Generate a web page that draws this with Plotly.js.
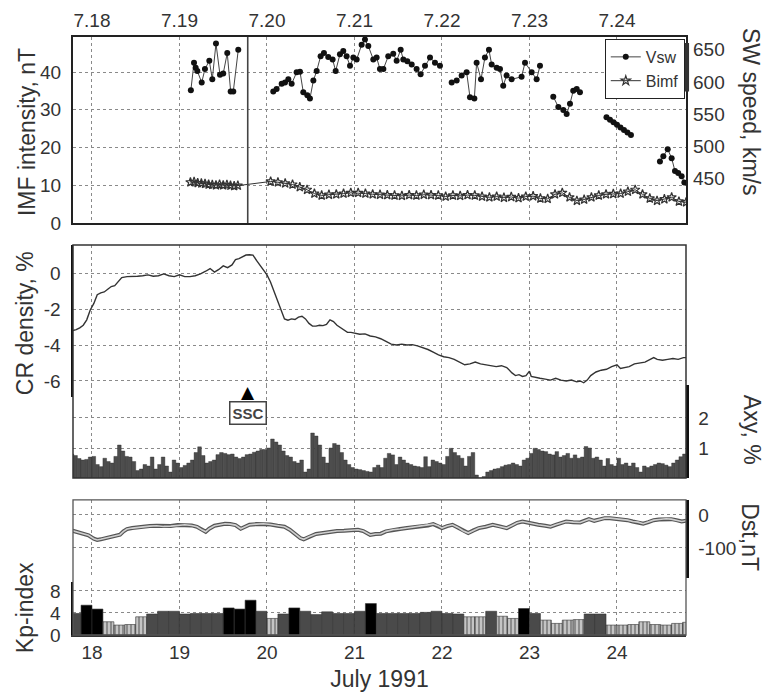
<!DOCTYPE html>
<html><head><meta charset="utf-8">
<script src="https://cdn.plot.ly/plotly-3.0.1.min.js"></script>
<style>html,body{margin:0;padding:0;background:#fff}#chart{width:764px;height:692px}</style>
</head><body><div id="chart"></div>
<script>
// ---------- data (time = day of July 1991) ----------
const dayTicks = [18, 19, 20, 21, 22, 23, 24];
const topTickText = ['7.18', '7.19', '7.20', '7.21', '7.22', '7.23', '7.24'];
const bottomTickText = ['18', '19', '20', '21', '22', '23', '24'];
const sscTime = 19.78;

// Solar wind speed, km/s (null = data gap)
const vswT = [19.13,19.166,19.185,19.204,19.254,19.291,19.341,19.375,19.417,19.463,19.5,19.546,19.585,19.615,19.672,
  19.8,
  20.072,20.11,20.168,20.206,20.244,20.282,20.339,20.377,20.415,20.461,20.491,20.53,20.568,20.613,20.651,20.70,20.75,20.785,20.834,20.872,20.91,20.949,20.987,21.025,21.082,21.12,21.158,21.215,21.253,21.291,21.33,21.386,21.443,21.482,21.528,21.558,21.604,21.654,21.71,21.756,21.806,21.863,21.92,21.977,
  22.05,
  22.111,22.168,22.225,22.282,22.32,22.37,22.396,22.446,22.491,22.537,22.568,22.625,22.663,22.70,22.739,22.796,22.91,22.949,23.025,23.082,23.12,
  23.2,
  23.272,23.33,23.387,23.425,23.463,23.50,23.54,23.577,
  23.7,
  23.88,23.92,23.96,24.0,24.04,24.08,24.12,24.16,
  24.3,
  24.491,24.53,24.58,24.625,24.663,24.70,24.739,24.77];
const vswV = [587,630,622,617,599,620,633,604,660,611,613,645,585,585,650,
  null,
  585,589,597,599,604,597,615,616,584,579,574,602,617,640,645,639,635,617,643,648,640,625,638,635,658,666,656,635,638,620,620,640,644,633,650,635,632,627,620,612,625,638,630,625,
  null,
  599,602,610,615,576,574,630,604,638,650,627,622,620,594,610,604,608,630,615,604,625,
  null,
  577,561,556,550,566,586,589,584,
  null,
  545,541,537,533,529,525,521,517,
  null,
  476,484,495,481,461,458,453,443];

// IMF intensity, nT
const bimfT = [19.125,19.167,19.208,19.25,19.292,19.333,19.375,19.417,19.458,19.5,19.542,19.583,19.625,19.667,
  20.042,20.125,20.208,20.292,20.375,20.458,20.542,20.625,20.708,20.792,20.875,20.958,21.042,21.125,21.208,21.292,21.375,21.458,21.542,21.625,
  21.708,21.792,21.875,21.958,22.042,22.125,22.208,22.292,22.375,22.458,22.542,22.625,22.708,22.792,22.875,22.958,23.042,23.125,23.208,23.292,
  23.375,23.458,23.542,23.625,23.708,23.792,23.875,23.958,24.042,24.125,24.208,24.292,24.375,24.458,24.542,24.625,24.708,24.79];
const bimfV = [10.8,10.9,10.6,10.5,10.4,10.2,10.1,10.0,10.2,10.0,10.1,9.9,9.8,9.9,
  11.0,10.8,10.5,10.2,9.5,8.8,7.8,7.3,7.5,7.6,7.8,8.0,8.0,7.8,7.6,7.5,7.4,7.3,7.2,7.4,
  7.3,7.5,7.4,7.3,7.0,7.3,7.2,7.4,7.3,7.0,6.8,7.0,6.7,6.9,6.6,7.0,7.1,6.5,6.4,7.6,
  8.0,6.8,5.9,6.2,6.8,7.3,7.6,7.7,7.8,8.3,8.8,7.6,6.5,5.9,6.3,6.8,5.7,5.5];

// Cosmic ray density, %
const crT = [17.78,17.82,17.86,17.9,17.94,17.98,18.02,18.06,18.1,18.14,18.18,18.22,18.26,18.3,18.34,18.4,18.46,18.52,18.58,18.64,18.7,18.76,18.82,18.88,18.94,
  19.0,19.06,19.12,19.18,19.24,19.3,19.35,19.4,19.45,19.5,19.55,19.6,19.64,19.68,19.72,19.76,19.8,19.84,19.88,19.92,19.96,
  20.0,20.04,20.08,20.12,20.16,20.2,20.24,20.28,20.32,20.36,20.4,20.44,20.48,20.52,20.56,20.6,20.64,20.68,20.72,20.76,20.8,20.84,20.88,20.92,20.96,
  21.0,21.06,21.12,21.18,21.24,21.3,21.36,21.42,21.48,21.54,21.6,21.66,21.72,21.78,21.84,21.9,21.96,
  22.02,22.08,22.14,22.2,22.26,22.32,22.38,22.44,22.5,22.56,22.62,22.68,22.74,22.8,22.84,22.88,22.92,22.96,
  23.0,23.02,23.06,23.12,23.18,23.24,23.3,23.36,23.42,23.48,23.54,23.58,23.62,23.66,23.7,23.76,23.82,23.88,23.94,
  24.0,24.04,24.08,24.14,24.2,24.26,24.32,24.38,24.42,24.46,24.52,24.58,24.64,24.7,24.76,24.79];
const crV = [-3.2,-3.15,-3.05,-2.9,-2.6,-2.05,-1.7,-1.2,-1.1,-1.05,-0.9,-0.75,-0.7,-0.45,-0.25,-0.2,-0.2,-0.18,-0.15,-0.1,-0.18,-0.15,-0.05,-0.15,-0.2,
  -0.1,-0.2,-0.2,-0.15,-0.05,0.1,0.25,0.05,0.2,0.4,0.3,0.45,0.75,0.8,0.9,1.0,1.02,1.0,0.7,0.45,0.15,
  -0.1,-0.5,-1.0,-1.5,-2.0,-2.55,-2.62,-2.55,-2.58,-2.45,-2.4,-2.55,-2.8,-2.95,-2.95,-2.9,-2.92,-2.85,-2.6,-2.7,-2.9,-3.05,-3.2,-3.3,-3.3,
  -3.35,-3.4,-3.38,-3.5,-3.55,-3.65,-3.8,-3.95,-4.0,-3.95,-4.0,-3.98,-4.05,-4.15,-4.25,-4.4,-4.55,
  -4.65,-4.7,-4.8,-4.95,-5.1,-5.05,-4.95,-5.05,-5.1,-5.15,-5.2,-5.15,-5.25,-5.55,-5.7,-5.65,-5.75,-5.7,
  -5.45,-5.75,-5.8,-5.85,-5.9,-5.95,-5.85,-5.95,-6.0,-5.95,-6.05,-6.0,-6.1,-5.95,-5.7,-5.5,-5.4,-5.35,-5.2,
  -5.1,-5.3,-5.25,-5.2,-5.05,-5.0,-4.95,-4.8,-4.7,-4.8,-4.85,-4.8,-4.75,-4.8,-4.7,-4.7];

// CR anisotropy Axy, % (hourly, first hour starts 17.75)
const axyStart = 17.75;
const axyStep = 1 / 24;
const axyV = [0.8,0.75,0.65,0.6,0.62,0.7, 0.72,0.45,0.38,0.66,0.55,0.5, 0.72,1.1,0.9,0.72,0.7,0.55, 0.25,0.3,0.45,0.4,0.7,0.3,
  0.45,0.7,0.4,0.2,0.6,0.5, 0.35,0.42,0.5,0.6,0.85,1.04, 0.75,0.5,0.55,0.6,0.78,0.85, 0.82,0.78,0.8,0.7,0.65,0.7,
  0.78,0.8,0.86,0.9,0.95,0.95, 1.0,1.3,1.2,1.1,0.9,0.75, 0.7,0.55,0.5,0.6,0.2,0.3, 1.5,1.4,1.1,0.7,0.5,1.0,
  1.15,1.1,0.85,0.6,0.45,0.35, 0.3,0.28,0.25,0.22,0.2,0.35, 0.43,0.35,0.66,0.82,0.77,0.45, 0.7,0.6,0.5,0.45,0.4,0.38,
  0.35,0.71,0.38,0.6,0.55,0.5, 0.45,0.72,0.99,0.85,0.75,0.66, 0.4,0.72,0.85,0.1,0.0,0.05, 0.2,0.25,0.3,0.32,0.38,0.43,
  0.45,0.5,0.45,0.4,0.6,0.66, 0.82,0.99,0.95,0.9,0.88,0.8, 0.77,0.88,0.7,0.75,0.82,0.66, 0.77,0.66,0.7,1.05,1.0,0.66,
  0.7,0.6,0.4,0.65,0.45,0.4, 0.66,0.45,0.5,0.4,0.5,0.35, 0.2,0.4,0.35,0.4,0.45,0.5, 0.48,0.43,0.38,0.5,0.6,0.71, 0.8];

// Dst, nT
const dstT = [17.78,17.84,17.9,17.96,18.02,18.06,18.1,18.16,18.22,18.28,18.32,18.36,18.4,18.46,18.52,18.58,18.66,18.74,18.82,18.9,18.98,
  19.06,19.14,19.2,19.26,19.3,19.34,19.4,19.46,19.52,19.58,19.64,19.7,19.74,19.8,19.88,19.96,
  20.04,20.12,20.2,20.26,20.32,20.38,20.42,20.48,20.56,20.64,20.72,20.8,20.88,20.96,
  21.04,21.1,21.18,21.24,21.3,21.36,21.44,21.52,21.6,21.68,21.76,21.84,21.9,21.96,
  22.0,22.06,22.12,22.18,22.24,22.3,22.36,22.42,22.5,22.58,22.66,22.74,22.8,22.86,22.92,22.98,
  23.04,23.1,23.18,23.24,23.3,23.36,23.42,23.5,23.58,23.64,23.68,23.74,23.8,23.86,23.92,
  24.0,24.06,24.12,24.18,24.24,24.3,24.36,24.42,24.48,24.56,24.62,24.68,24.74,24.79];
const dstV = [-48,-52,-58,-62,-72,-76,-74,-70,-66,-62,-60,-50,-43,-40,-38,-35,-34,-33,-35,-34,-31,
  -30,-32,-36,-46,-51,-42,-33,-30,-27,-28,-31,-42,-38,-30,-28,-27,
  -29,-33,-36,-45,-58,-70,-74,-66,-58,-55,-51,-49,-48,-46,
  -45,-49,-61,-58,-57,-50,-45,-43,-40,-38,-35,-32,-28,-34,
  -40,-34,-30,-38,-48,-55,-47,-40,-36,-30,-35,-40,-32,-24,-20,-24,
  -28,-30,-33,-36,-30,-26,-20,-22,-23,-17,-13,-18,-14,-10,-10,
  -12,-13,-16,-20,-22,-27,-22,-16,-14,-12,-13,-16,-20,-18];

// Kp index (3-hour intervals, first interval starts 17.75)
const kpStart = 17.75;
const kpStep = 0.125;
const kpV = [3.9,5.4,4.7,2.4,1.8,1.9,3.3,3.8,4.3,4.3, 3.8,3.9,3.9,3.9,4.9,4.7,6.3,4.3,3.0,3.8,
  4.9,4.3,3.7,4.2,3.9,3.9,4.3,5.7,3.9,3.9, 3.9,3.9,4.1,4.3,3.9,3.8,3.3,3.3,4.3,3.4,
  3.0,4.8,3.9,2.7,2.1,2.7,2.8,3.8,3.8,1.8, 1.8,1.9,2.4,1.9,1.8,2.1,2.3];

// ---------- derived ----------
const axyT = axyV.map((v, i) => axyStart + (i + 0.5) * axyStep);
const kpT = kpV.map((v, i) => kpStart + (i + 0.5) * kpStep);
const kpColor = kpV.map(v => v >= 4.7 ? '#000000' : (v >= 3.5 ? '#4a4a4a' : '#c4c4c4'));
const kpPattern = kpV.map(v => v < 3.5 ? '|' : '');

const xRange = [17.783, 24.789];
const FONT = 'Liberation Sans, Arial, sans-serif';
const TXT = '#333';
const GRID = '#8a8a8a';

const traces = [
  {x: vswT, y: vswV, xaxis: 'x', yaxis: 'y2', name: 'Vsw', mode: 'lines+markers', connectgaps: false,
   line: {color: '#444', width: 1}, marker: {symbol: 'circle', size: 6, color: '#111'}},
  {x: bimfT, y: bimfV, xaxis: 'x', yaxis: 'y', name: 'Bimf', mode: 'lines+markers',
   line: {color: '#333', width: 1}, marker: {symbol: 'star-open', size: 7, color: '#333', line: {width: 1.2}}},
  {x: crT, y: crV, xaxis: 'x2', yaxis: 'y3', mode: 'lines', showlegend: false,
   line: {color: '#333', width: 1.4}},
  {x: axyT, y: axyV, xaxis: 'x2', yaxis: 'y4', type: 'bar', width: axyStep, showlegend: false,
   marker: {color: '#4d4d4d', line: {color: '#2a2a2a', width: 0.4}}},
  {x: dstT, y: dstV, xaxis: 'x3', yaxis: 'y5', mode: 'lines', showlegend: false,
   line: {color: '#555', width: 4}},
  {x: dstT, y: dstV, xaxis: 'x3', yaxis: 'y5', mode: 'lines', showlegend: false,
   line: {color: '#cfcfcf', width: 1.6}},
  {x: kpT, y: kpV, xaxis: 'x3', yaxis: 'y6', type: 'bar', width: kpStep, showlegend: false,
   marker: {color: kpColor, line: {color: '#333', width: 0.6},
            pattern: {shape: kpPattern, fgcolor: '#f4f4f4', size: 4, solidity: 0.45, fillmode: 'overlay'}}}
];

const tickFont = {family: FONT, size: 19, color: TXT};
const gridX = {showgrid: true, gridcolor: GRID, griddash: 'dot', gridwidth: 1, zeroline: false};
function yax(extra) {
  return Object.assign({showgrid: true, gridcolor: GRID, griddash: 'dot', gridwidth: 1, zeroline: false,
    tickfont: tickFont, ticks: '', ticklabelstandoff: 6, fixedrange: true}, extra);
}

const layout = {
  width: 764, height: 692,
  margin: {l: 73, r: 78, t: 37, b: 57},
  paper_bgcolor: '#fff', plot_bgcolor: '#fff',
  font: {family: FONT, color: TXT},
  showlegend: true,
  legend: {x: 0.998, xanchor: 'right', y: 0.9967, yanchor: 'top', bgcolor: '#fff',
    bordercolor: '#222', borderwidth: 1, font: {family: FONT, size: 16, color: TXT}, itemwidth: 30, tracegroupgap: 0},
  xaxis: Object.assign({domain: [0, 1], range: xRange, anchor: 'y', side: 'top', tickmode: 'array',
    tickvals: dayTicks, ticktext: topTickText, tickfont: tickFont, ticks: '', ticklabelstandoff: 0,
    showline: true, mirror: true, linewidth: 2, linecolor: '#222'}, gridX),
  yaxis: yax({domain: [0.689, 1], range: [0, 49.3], anchor: 'x', tickmode: 'array', tickvals: [0, 10, 20, 30, 40],
    showline: true, mirror: true, linewidth: 2, linecolor: '#222'}),
  yaxis2: yax({overlaying: 'y', side: 'right', anchor: 'x', range: [380, 670], tickmode: 'array',
    tickvals: [450, 500, 550, 600, 650], showgrid: false, showline: false}),
  xaxis2: Object.assign({domain: [0, 1], range: xRange, anchor: 'y4', tickmode: 'array', tickvals: dayTicks,
    showticklabels: false, ticks: '', showline: false}, gridX),
  yaxis3: yax({domain: [0.398, 0.6522], range: [-6.89, 1.56], anchor: 'x2', side: 'left', tickmode: 'array',
    tickvals: [-6, -4, -2, 0], ticktext: ['-6', '-4', '-2', '0'], showline: true, linewidth: 2.5, linecolor: '#111'}),
  yaxis4: yax({domain: [0.2625, 0.4181], range: [0, 3.1], anchor: 'x2', side: 'right', tickmode: 'array',
    tickvals: [1, 2], showline: true, linewidth: 2.5, linecolor: '#111'}),
  xaxis3: Object.assign({domain: [0, 1], range: xRange, anchor: 'y6', side: 'bottom', tickmode: 'array',
    tickvals: dayTicks, ticktext: bottomTickText, tickfont: tickFont, ticks: '', ticklabelstandoff: 0,
    showline: true, linewidth: 1.5, linecolor: '#333',
    title: {text: 'July 1991', font: {family: FONT, size: 23, color: TXT}, standoff: 8}}, gridX),
  yaxis5: yax({domain: [0.0953, 0.2258], range: [-191, 45], anchor: 'x3', side: 'right', tickmode: 'array',
    tickvals: [-100, 0], ticktext: ['-100', '0'], showline: true, linewidth: 2.5, linecolor: '#111'}),
  yaxis6: yax({domain: [0, 0.0886], range: [0, 9.6], anchor: 'x3', side: 'left', tickmode: 'array',
    tickvals: [0, 4, 8], showline: true, linewidth: 2.5, linecolor: '#111'}),
  shapes: [
    {type: 'line', xref: 'x', yref: 'y domain', x0: sscTime, x1: sscTime, y0: 0, y1: 1,
     line: {color: '#444', width: 1.6}},
    {type: 'rect', xref: 'paper', yref: 'paper', x0: 0, x1: 1, y0: 0.2625, y1: 0.6522,
     line: {color: '#333', width: 1.5}},
    {type: 'rect', xref: 'paper', yref: 'paper', x0: 0, x1: 1, y0: 0, y1: 0.2258,
     line: {color: '#555', width: 1.3}},
    {type: 'rect', xref: 'paper', yref: 'paper', x0: 0.88, x1: 1.005, y0: 0.909, y1: 0.99,
     fillcolor: '#333', line: {width: 0}, layer: 'above'}
  ],
  annotations: [
    {text: 'IMF intensity, nT', xref: 'paper', yref: 'paper', x: -0.075, y: 0.841, textangle: -90,
     showarrow: false, xanchor: 'center', yanchor: 'middle', font: {family: FONT, size: 23, color: TXT}},
    {text: 'CR density, %', xref: 'paper', yref: 'paper', x: -0.078, y: 0.5217, textangle: -90,
     showarrow: false, xanchor: 'center', yanchor: 'middle', font: {family: FONT, size: 23, color: TXT}},
    {text: 'Kp-index', xref: 'paper', yref: 'paper', x: -0.078, y: 0.0452, textangle: -90,
     showarrow: false, xanchor: 'center', yanchor: 'middle', font: {family: FONT, size: 23, color: TXT}},
    {text: 'SW speed, km/s', xref: 'paper', yref: 'paper', x: 1.106, y: 0.8746, textangle: 90,
     showarrow: false, xanchor: 'center', yanchor: 'middle', font: {family: FONT, size: 23, color: TXT}},
    {text: 'Axy, %', xref: 'paper', yref: 'paper', x: 1.108, y: 0.3428, textangle: 90,
     showarrow: false, xanchor: 'center', yanchor: 'middle', font: {family: FONT, size: 23, color: TXT}},
    {text: 'Dst,nT', xref: 'paper', yref: 'paper', x: 1.104, y: 0.1639, textangle: 90,
     showarrow: false, xanchor: 'center', yanchor: 'middle', font: {family: FONT, size: 23, color: TXT}},
    {text: '▲', xref: 'x2', yref: 'paper', x: sscTime, y: 0.4064, showarrow: false,
     xanchor: 'center', yanchor: 'middle', font: {family: 'DejaVu Sans', size: 17, color: '#000'}},
    {text: '<b>SSC</b>', xref: 'x2', yref: 'paper', x: sscTime, y: 0.3712, showarrow: false,
     xanchor: 'center', yanchor: 'middle', bgcolor: '#fff', bordercolor: '#444', borderwidth: 1.5, borderpad: 2,
     font: {family: FONT, size: 15, color: '#444'}}
  ]
};

Plotly.newPlot('chart', traces, layout, {staticPlot: true, displayModeBar: false});
</script></body></html>
